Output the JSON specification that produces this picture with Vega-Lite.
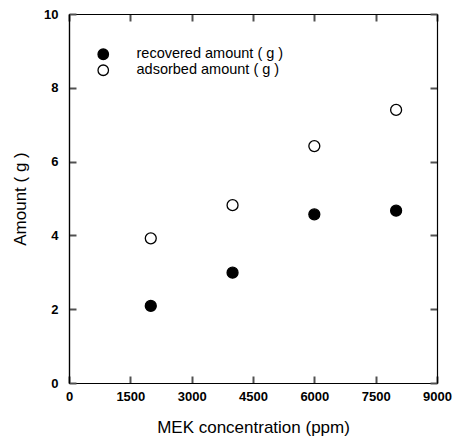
{
  "$schema": "https://vega.github.io/schema/vega-lite/v6.json",
  "width": 368,
  "height": 369,
  "autosize": {"type": "none"},
  "padding": {"left": 69, "top": 14, "right": 27, "bottom": 59},
  "background": "white",
  "config": {
    "view": {"stroke": null},
    "font": "Liberation Sans",
    "axis": {"grid": false, "domainColor": "black", "domainWidth": 1.2, "labelColor": "black", "titleColor": "black", "labelFont": "Liberation Sans", "titleFont": "Liberation Sans"}
  },
  "data": {"values": [
    {"conc": 2000, "amount": 2.09, "series": "recovered amount ( g )"},
    {"conc": 4000, "amount": 2.99, "series": "recovered amount ( g )"},
    {"conc": 6000, "amount": 4.57, "series": "recovered amount ( g )"},
    {"conc": 8000, "amount": 4.67, "series": "recovered amount ( g )"},
    {"conc": 2000, "amount": 3.92, "series": "adsorbed amount ( g )"},
    {"conc": 4000, "amount": 4.82, "series": "adsorbed amount ( g )"},
    {"conc": 6000, "amount": 6.42, "series": "adsorbed amount ( g )"},
    {"conc": 8000, "amount": 7.40, "series": "adsorbed amount ( g )"}
  ]},
  "layer": [
    {
      "mark": {"type": "point", "filled": true, "stroke": "black", "strokeWidth": 1.3, "size": 120, "opacity": 1},
      "encoding": {
        "x": {"field": "conc", "type": "quantitative", "scale": {"domain": [0, 9000], "nice": false},
          "axis": {"orient": "bottom", "values": [0, 1500, 3000, 4500, 6000, 7500, 9000], "format": "d", "ticks": false, "labelPadding": 7, "labelFontSize": 13, "labelFontWeight": "bold", "title": "MEK concentration (ppm)", "titleFontSize": 17, "titleFontWeight": "normal", "titlePadding": 16, "labelFlush": false}},
        "y": {"field": "amount", "type": "quantitative", "scale": {"domain": [0, 10], "nice": false},
          "axis": {"orient": "left", "values": [0, 2, 4, 6, 8, 10], "format": "d", "ticks": false, "labelPadding": 11, "labelFontSize": 13, "labelFontWeight": "bold", "title": "Amount ( g )", "titleFontSize": 17, "titleFontWeight": "normal", "titlePadding": 14, "labelFlush": false}},
        "fill": {"field": "series", "type": "nominal",
          "scale": {"domain": ["recovered amount ( g )", "adsorbed amount ( g )"], "range": ["black", "white"]},
          "legend": {"orient": "none", "legendX": 25, "legendY": 33, "title": null, "labelFontSize": 14.5, "labelFont": "Liberation Sans", "labelColor": "black", "symbolType": "circle", "symbolSize": 110, "symbolStrokeColor": "black", "symbolStrokeWidth": 1.3, "symbolOffset": 2, "labelOffset": 26, "rowPadding": -6}}
      }
    },
    {
      "mark": {"type": "point", "opacity": 0},
      "encoding": {
        "x": {"field": "conc", "type": "quantitative",
          "axis": {"orient": "top", "offset": -369, "values": [0, 1500, 3000, 4500, 6000, 7500, 9000], "ticks": true, "tickSize": 7, "tickWidth": 2, "tickColor": "#505050", "labels": false, "title": null}},
        "y": {"field": "amount", "type": "quantitative",
          "axis": {"orient": "right", "offset": -368, "values": [0, 2, 4, 6, 8, 10], "ticks": true, "tickSize": 7, "tickWidth": 2, "tickColor": "#505050", "labels": false, "title": null}}
      }
    },
    {
      "mark": {"type": "point", "opacity": 0},
      "encoding": {
        "x": {"field": "conc", "type": "quantitative",
          "axis": {"orient": "bottom", "offset": -369, "values": [0, 1500, 3000, 4500, 6000, 7500, 9000], "ticks": true, "tickSize": 7, "tickWidth": 2, "tickColor": "#505050", "labels": false, "title": null}},
        "y": {"field": "amount", "type": "quantitative",
          "axis": {"orient": "left", "offset": -368, "values": [0, 2, 4, 6, 8, 10], "ticks": true, "tickSize": 7, "tickWidth": 2, "tickColor": "#505050", "labels": false, "title": null}}
      }
    }
  ],
  "resolve": {"axis": {"x": "independent", "y": "independent"}}
}
